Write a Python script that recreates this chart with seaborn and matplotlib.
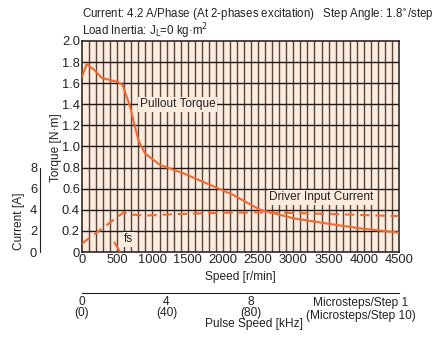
import numpy as np
import pandas as pd
import matplotlib
matplotlib.use("Agg")
import matplotlib.pyplot as plt
import seaborn as sns

# Pullout torque curve [N·m] vs speed [r/min]
torque_speed = [0, 66, 185, 280, 515, 578, 681, 800, 894, 1107, 1438, 1770, 2148, 2527, 3000, 3473, 3946, 4500]
torque_vals = [1.66, 1.78, 1.72, 1.65, 1.61, 1.58, 1.38, 1.06, 0.935, 0.825, 0.746, 0.65, 0.54, 0.40, 0.32, 0.27, 0.224, 0.183]

# Driver input current [A] vs speed [r/min]
current_speed = [0, 590, 700, 900, 1200, 1600, 2000, 2500, 3000, 3500, 4000, 4500]
current_vals = [0.8, 3.75, 3.55, 3.45, 3.55, 3.65, 3.72, 3.75, 3.7, 3.6, 3.5, 3.4]

# fs marker segment
fs_speed = [460, 540]
fs_torque = [0.09, 0.0]

# pulse speed axis
pulse_ticks = [0, 4, 8, 12]
pulse_labels = ["0\n(0)", "4\n(40)", "8\n(80)", ""]

sns.set_style("white")
plt.rcParams['font.family'] = ['Liberation Sans', 'DejaVu Sans']

ORANGE = "#f26a2e"
BG = "#fdebdd"
GRID = "#54453f"
TXT = "#222222"
FS = 8.6
TFS = 9.3

fig = plt.figure(figsize=(4.4, 3.43), dpi=100)
ax = fig.add_axes([0.1864, 0.2653, 0.7205, 0.6152])
ax.set_facecolor(BG)

torque_df = pd.DataFrame({"speed": torque_speed, "torque": torque_vals})
current_df = pd.DataFrame({"speed": current_speed, "current": current_vals})
current_df["scaled"] = current_df["current"] / 10.0

for x in np.arange(100, 4500, 100):
    ax.axvline(x, color=GRID, lw=1.0, zorder=1)
for y in np.arange(0.2, 2.0, 0.2):
    ax.axhline(y, color="#1e1816", lw=1.0, zorder=1)

sns.lineplot(data=torque_df, x="speed", y="torque", color=ORANGE, lw=1.5, ax=ax, zorder=3)
sns.lineplot(data=current_df, x="speed", y="scaled", color=ORANGE, lw=1.5, ax=ax,
             linestyle=(0, (4.5, 2.8)), zorder=3)
ax.plot(fs_speed, fs_torque, color=ORANGE, lw=1.5, zorder=3)

ax.set_xlim(0, 4500)
ax.set_ylim(0, 2.0)
ax.set_xticks(np.arange(0, 4501, 500))
ax.set_xticklabels([str(v) for v in range(0, 4501, 500)])
ax.set_yticks(np.arange(0, 2.01, 0.2))
ax.set_yticklabels(["0"] + ["%.1f" % v for v in np.arange(0.2, 2.01, 0.2)])
ax.tick_params(axis="both", labelsize=TFS, colors=TXT, length=0, pad=1.5)
ax.set_xlabel("")
ax.set_ylabel("")
for s in ax.spines.values():
    s.set_color("#1e1816")
    s.set_linewidth(1.1)

box = dict(facecolor=BG, edgecolor="none", pad=1.0)
ax.text(820, 1.40, "Pullout Torque", fontsize=FS, color=TXT, va="center", bbox=box, zorder=4)
ax.text(2660, 0.52, "Driver Input Current", fontsize=FS, color=TXT, va="center", bbox=box, zorder=4)
ax.text(600, 0.12, "fs", fontsize=FS, color=TXT, va="center", bbox=box, zorder=4)

# axis labels placed in figure pixels
W, H = 440.0, 343.0
fig.text(240 / W, 1 - 277 / H, "Speed [r/min]", fontsize=FS, color=TXT, ha="center", va="center")
fig.text(56 / W, 1 - 148 / H, "Torque [N·m]", fontsize=FS, color=TXT, ha="center", va="center", rotation=90)
fig.text(19 / W, 1 - 221 / H, "Current [A]", fontsize=FS, color=TXT, ha="center", va="center", rotation=90)
fig.text(254 / W, 1 - 324 / H, "Pulse Speed [kHz]", fontsize=FS, color=TXT, ha="center", va="center")

# titles
fig.text(82 / W, 1 - 15 / H, "Current: 4.2 A/Phase (At 2-phases excitation)   Step Angle: 1.8$^{\\circ}$/step",
         fontsize=8.3, color=TXT, va="center")
fig.text(82 / W, 1 - 31 / H, "Load Inertia: J$_{\\rm L}$=0 kg·m$^2$", fontsize=8.3, color=TXT, va="center")

# current axis on the far left
cax = fig.add_axes([40 / W, 0.2653, 0.001, 0.6152])
cax.set_ylim(0, 20)
cax.set_xticks([])
cax.set_yticks([0, 2, 4, 6, 8])
cax.set_yticklabels(["0", "2", "4", "6", "8"])
for k in ["top", "right", "bottom"]:
    cax.spines[k].set_visible(False)
cax.spines["left"].set_bounds(0, 8)
cax.spines["left"].set_color(TXT)
cax.tick_params(axis="y", labelsize=TFS, colors=TXT, length=3, direction="in", pad=2)
cax.patch.set_alpha(0)

# pulse speed axis
pax = fig.add_axes([0.1864, 1 - 293 / H, 0.7205, 0.001])
pax.set_xlim(0, 15)
pax.set_yticks([])
for k in ["top", "right", "left"]:
    pax.spines[k].set_visible(False)
pax.spines["bottom"].set_color(TXT)
pax.set_xticks(pulse_ticks)
pax.set_xticklabels(pulse_labels, linespacing=0.95)
pax.tick_params(axis="x", labelsize=FS, colors=TXT, length=3, direction="in", pad=2)
fig.text(361 / W, 1 - 303 / H, "Microsteps/Step 1", fontsize=FS, color=TXT, ha="center", va="center")
fig.text(361 / W, 1 - 316 / H, "(Microsteps/Step 10)", fontsize=FS, color=TXT, ha="center", va="center")
pax.patch.set_alpha(0)

fig.savefig("out.png", dpi=100)
